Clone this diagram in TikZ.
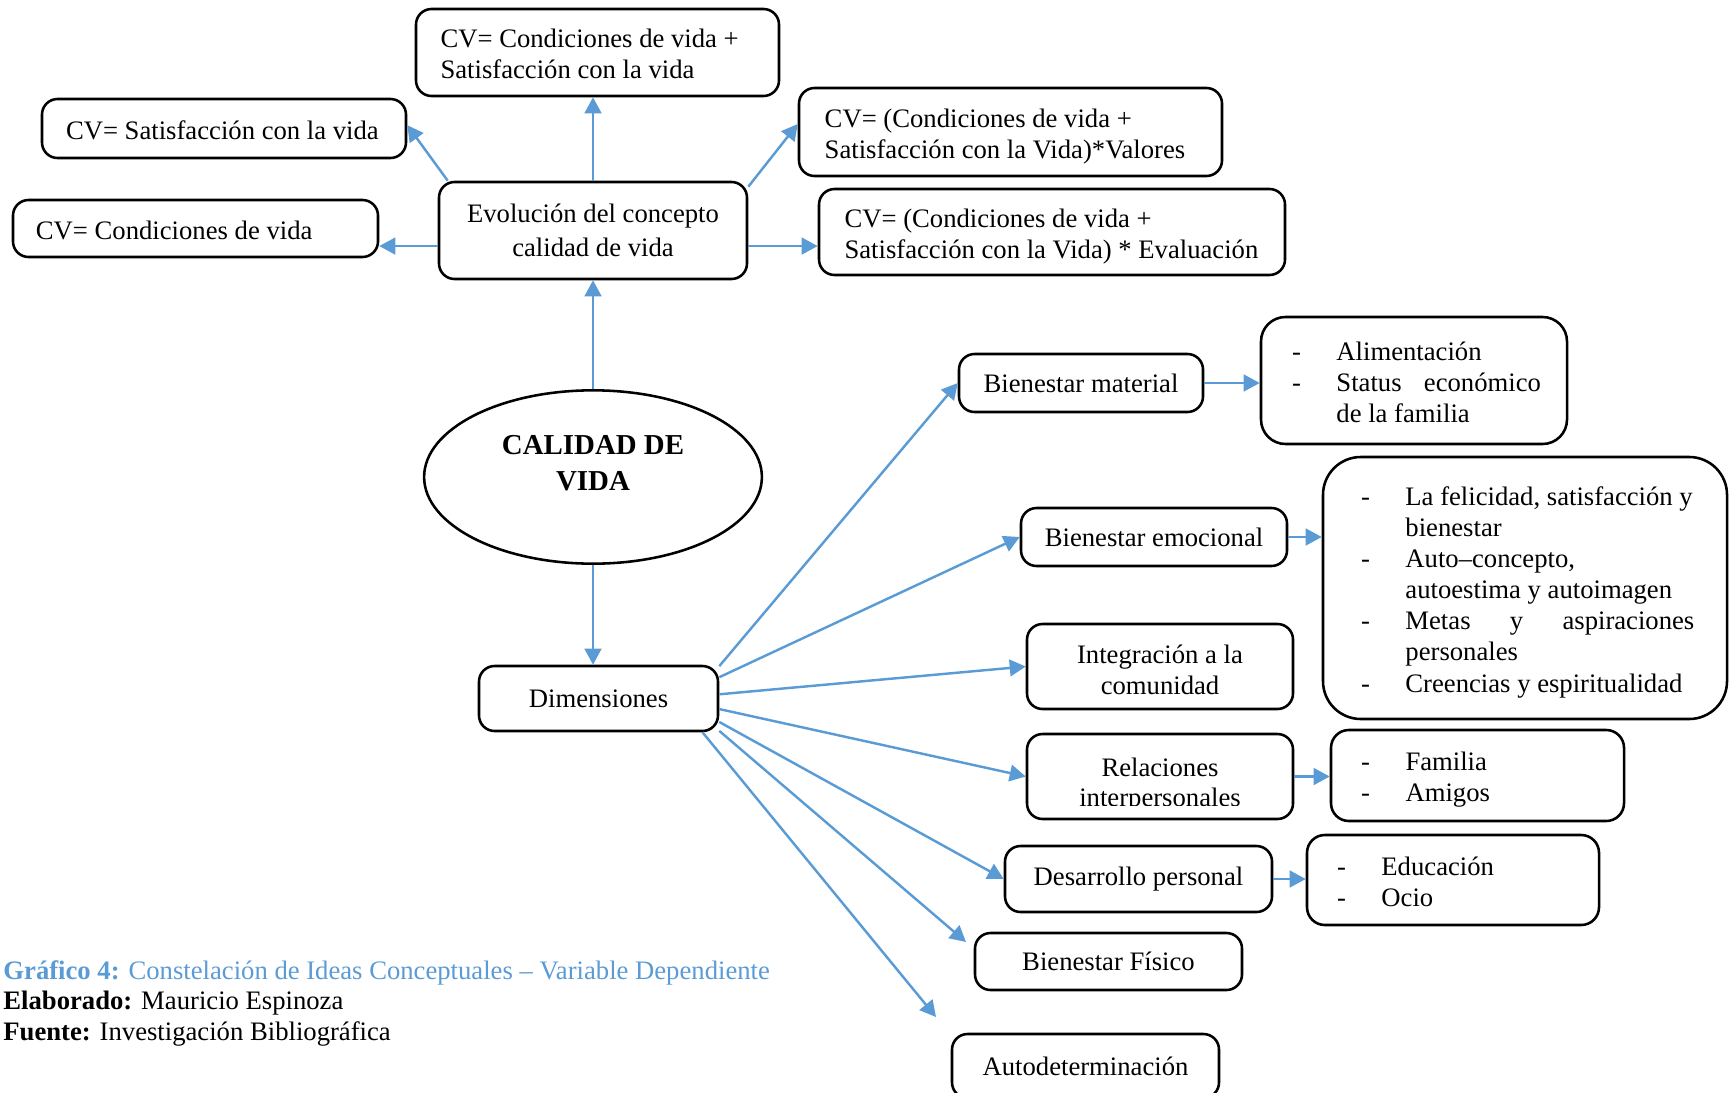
\documentclass[tikz,border=0pt]{standalone}
\usepackage{fontspec}
\setmainfont{Liberation Serif}
\usetikzlibrary{arrows.meta,shapes.geometric}
\definecolor{linkblue}{HTML}{5B9BD5}

% left-aligned block of lines inside a box of given width
\newcommand\leftlines[2]{\makebox[#1][l]{\begin{tabular}{@{}l@{}}\rule{0pt}{13.8pt}#2\end{tabular}}}
% centred block of lines, set a little low in its box
\newcommand\centerlines[1]{\begin{tabular}{@{}c@{}}\rule{0pt}{15.6pt}#1\end{tabular}}
\newcommand\dashitem[1]{\makebox[20pt][l]{-}#1}
\newcommand\dashgap{\hspace*{20pt}}

\tikzset{
  box/.style={draw=black, line width=1.15pt, rounded corners=7pt, inner sep=0pt,
    fill=white, font=\fontsize{12}{14}\selectfont},
  span/.style n args={4}{at={({(#1+#3)/2},{(#2+#4)/2})},
    minimum width={(#3-#1)*0.45pt}, minimum height={(#4-#2)*0.45pt}},
  link/.style={draw=linkblue, line width=1.1pt, -{Triangle[length=7.2pt,width=7.5pt]}},
  caption/.style={anchor=base west, inner sep=0pt, font=\fontsize{12}{14}\selectfont},
}

\begin{document}
\begin{tikzpicture}[x=0.45pt, y=-0.45pt]
\useasboundingbox (0,0) rectangle (1731,1092);

% evolution of the concept
\node[box, span={416}{9}{779}{96}] (cvb)
  {\leftlines{141.3pt}{CV= Condiciones de vida +\\Satisfacción con la vida}};
\node[box, span={42}{99}{406}{158}] (cvs)
  {\leftlines{142.2pt}{CV= Satisfacción con la vida}};
\node[box, span={13}{200}{378}{257}] (cvc)
  {\leftlines{143.6pt}{CV= Condiciones de vida}};
\node[box, span={439}{182}{747}{279}, align=center, font=\fontsize{12}{15}\selectfont] (evo)
  {Evolución del concepto\\calidad de vida};
\node[box, span={799}{88}{1222}{176}] (cvv)
  {\leftlines{167.2pt}{CV= (Condiciones de vida +\\Satisfacción con la Vida)*Valores}};
\node[box, span={819}{189}{1285}{275}] (cve)
  {\leftlines{186.7pt}{CV= (Condiciones de vida +\\Satisfacción con la Vida) * Evaluación}};

% central concept
\node[draw, line width=1.15pt, ellipse, minimum width=152pt, minimum height=78pt,
  inner sep=0pt, fill=white] (cal) at (593,477) {};
\node[font=\bfseries\fontsize{13}{16.4}\selectfont, align=center] (calt) at (593,463)
  {CALIDAD DE\\VIDA};

\node[box, span={479}{666}{718}{731}] (dim) {Dimensiones};

% dimensions
\node[box, span={959}{354}{1203}{412}] (bm) {Bienestar material};
\node[box, rounded corners=11pt, span={1261}{317}{1567}{444}] (bml)
  {\leftlines{109.8pt}{\dashitem{Alimentación}\\
    \dashitem{\hbox to 92pt{Status\hfill económico}}\\
    \dashgap de la familia}};

\node[box, span={1021}{508}{1287}{566}] (be) {Bienestar emocional};
\node[box, rounded corners=17pt, span={1323}{457}{1727}{719}] (bel)
  {\leftlines{147.6pt}{\dashitem{La felicidad, satisfacción y}\\
   \dashgap bienestar\\
   \dashitem{Auto–concepto,}\\
   \dashgap autoestima y autoimagen\\
   \dashitem{\hbox to 130pt{Metas\hfill y\hfill aspiraciones}}\\
   \dashgap personales\\
   \dashitem{Creencias y espiritualidad}}};

\node[box, span={1027}{624}{1293}{709}] (ic) {\centerlines{Integración a la\\comunidad}};

% the second line sits low in its frame and loses its descenders
\node[box, span={1027}{734}{1293}{819}, path picture={
    \clip (path picture bounding box.north west)
      rectangle ([yshift=5.9pt]path picture bounding box.south east);
    \node[anchor=north, inner sep=0pt, minimum width=0pt, minimum height=0pt,
      draw=none, fill=none, align=center, font=\fontsize{12}{13.6}\selectfont]
      (rit) at ([yshift=-10.3pt]path picture bounding box.north) {Relaciones\\interpersonales};
  }] (ri) {};
\node[box, rounded corners=8pt, span={1331}{730}{1624}{821}] (ril)
  {\leftlines{104.8pt}{\dashitem{Familia}\\\dashitem{Amigos}}};

\node[box, span={1005}{846}{1272}{912}] (dp) {Desarrollo personal};
\node[box, rounded corners=8pt, span={1307}{835}{1599}{925}] (dpl)
  {\leftlines{104.4pt}{\dashitem{Educación}\\\dashitem{Ocio}}};

\node[box, span={975}{933}{1242}{990}] (bf) {Bienestar Físico};
\node[box, span={952}{1034}{1219}{1098}] (ad) {Autodeterminación};

\coordinate (bfend) at (966,942);
\coordinate (adend) at (936,1017);

% connectors around the evolution box
\draw[link] ([yshift=-7pt]evo.west) -- ([yshift=-7pt]evo.west -| cvc.east);
\draw[link] ([yshift=-7pt]evo.east) -- ([yshift=-7pt]evo.east -| cve.west);
\draw[link] ([xshift=4.5pt]evo.north west) -- ([yshift=1.5pt]cvs.east);
\draw[link] (evo.north) -- (evo.north |- cvb.south);
\draw[link] ([yshift=-2.7pt]evo.north east) -- ([yshift=3.6pt]cvv.west);

\draw[link] (cal.north) -- (evo.south);
\draw[link] (cal.south) -- (cal.south |- dim.north);

% fan of dimensions
\draw[link] (dim.15) -- (bm.west);
\draw[link] (dim.10) -- (be.west);
\draw[link] (dim.2.6) -- (ic.west);
\draw[link] (dim.-5.5) -- (ri.west);
\draw[link] (dim.-11.6) -- (dp.west);
\draw[link] (dim.-15) -- (bfend);
\draw[link] (dim.-18.3) -- (adend);

% detail lists
\draw[link] (bm.east) -- (bm.east -| bml.west);
\draw[link] (be.east) -- (be.east -| bel.west);
\draw[link] (ri.east) -- (ri.east -| ril.west);
\draw[link] (dp.east) -- (dp.east -| dpl.west);

% caption
\node[caption, text=linkblue] (cap1) at (3,979)
  {\textbf{Gráfico 4:} Constelación de Ideas Conceptuales – Variable Dependiente};
\node[caption] (cap2) at (3,1009) {\textbf{Elaborado:} Mauricio Espinoza};
\node[caption] (cap3) at (3,1040) {\textbf{Fuente:} Investigación Bibliográfica};
\end{tikzpicture}
\end{document}
